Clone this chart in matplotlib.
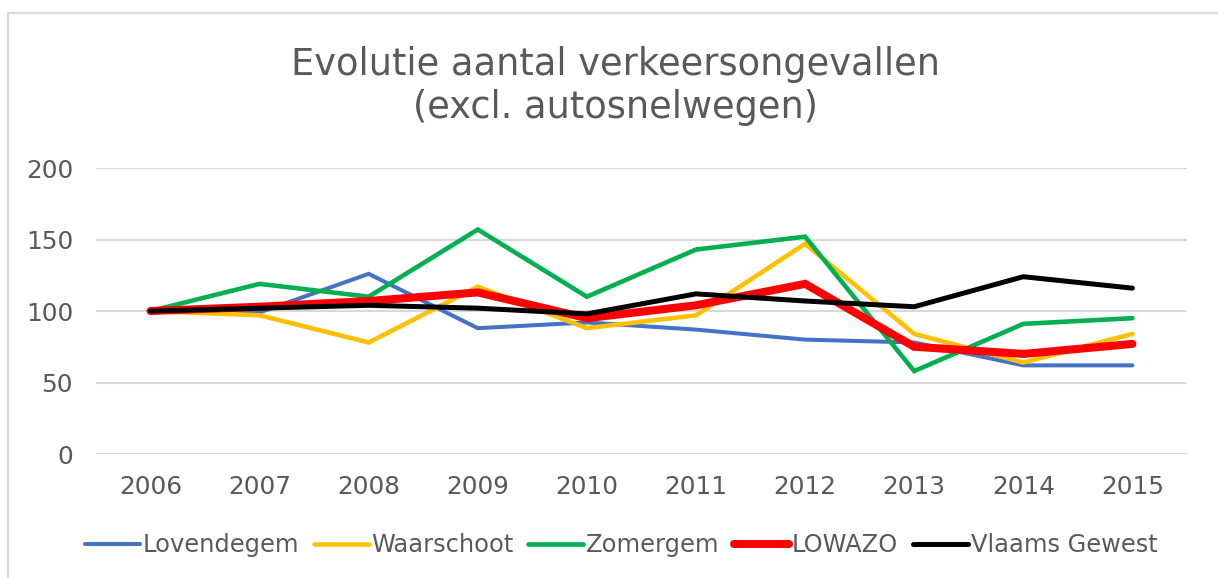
import numpy as np
import matplotlib.pyplot as plt
import matplotlib.patches as mpatches

# data (index, 2006 = 100)
years = ["2006", "2007", "2008", "2009", "2010", "2011", "2012", "2013", "2014", "2015"]
lovendegem = [100, 99, 126, 88, 92, 87, 80, 78, 62, 62]
waarschoot = [100, 97, 78, 117, 88, 97, 147, 84, 64, 84]
zomergem = [100, 119, 110, 157, 110, 143, 152, 58, 91, 95]
lowazo = [100, 103, 107, 113, 95, 104, 119, 75, 70, 77]
vlaams_gewest = [100, 102, 104, 102, 98, 112, 107, 103, 124, 116]

series = [
    ("Lovendegem", lovendegem, "#4472C4", 2.9),
    ("Waarschoot", waarschoot, "#FFC000", 3.3),
    ("Zomergem", zomergem, "#00B050", 3.3),
    ("LOWAZO", lowazo, "#FF0000", 5.8),
    ("Vlaams Gewest", vlaams_gewest, "#000000", 3.6),
]

txt = "#595959"
grid = "#D9D9D9"
plt.rcParams['font.family'] = ['DejaVu Sans']

fig = plt.figure(figsize=(12.18, 5.78), dpi=100)
ax = fig.add_axes([0.0788, 0.2145, 0.8957, 0.4948])

x = np.arange(len(years))
for name, vals, col, lw in series:
    ax.plot(x, vals, color=col, lw=lw, label=name, solid_capstyle='round',
            solid_joinstyle='miter')

ax.set_xlim(-0.5, len(years) - 0.5)
ax.set_ylim(0, 200)
ax.set_yticks([0, 50, 100, 150, 200])
ax.set_xticks(x)
ax.set_xticklabels(years)
ax.grid(axis='y', color=grid, lw=1.5)
ax.set_axisbelow(True)
for s in ax.spines.values():
    s.set_visible(False)
ax.tick_params(length=0, labelsize=17.8, labelcolor=txt)
ax.tick_params(axis='x', pad=15)
ax.tick_params(axis='y', pad=16.5)

fig.text(0.505, 0.851, "Evolutie aantal verkeersongevallen\n(excl. autosnelwegen)",
         ha='center', va='center', fontsize=26.5, color=txt, linespacing=1.2)

leg = fig.legend(loc='center', bbox_to_anchor=(0.51, 0.057), ncol=5, frameon=False,
                 fontsize=17.4, handlelength=2.27, handletextpad=0.12, columnspacing=0.6)
for t in leg.get_texts():
    t.set_color(txt)

# chart area border
fig.patches.append(mpatches.Rectangle((8 / 1218, -0.05), 1.2, 1 - 13 / 578 + 0.05,
                                      transform=fig.transFigure, fill=False,
                                      edgecolor=grid, lw=1.5))

fig.savefig("out.png", dpi=100)
